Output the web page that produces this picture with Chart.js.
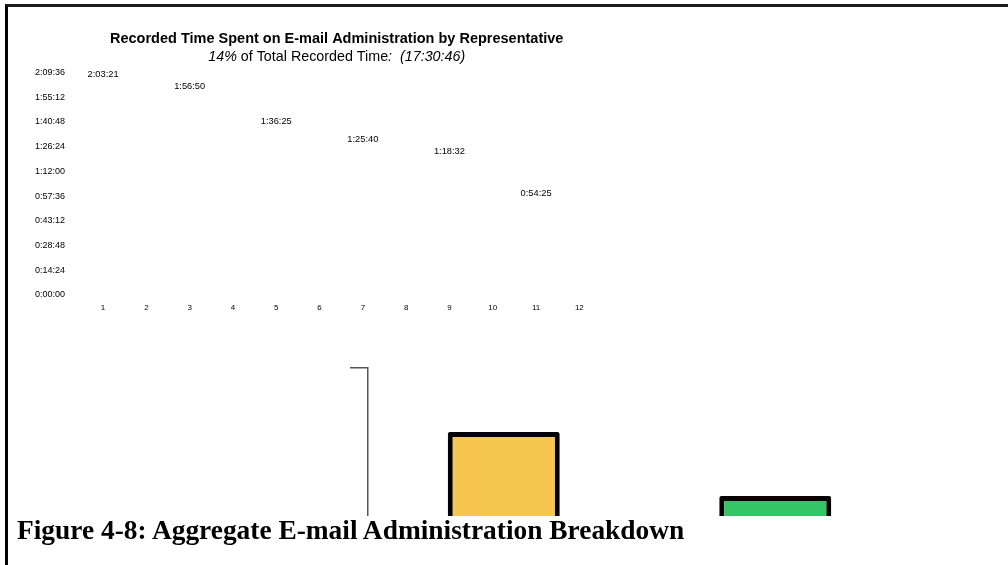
<!DOCTYPE html>
<html>
<head>
<meta charset="utf-8">
<script src="https://cdn.jsdelivr.net/npm/chart.js@4.4.0/dist/chart.umd.min.js"></script>
<style>
  html, body { margin: 0; padding: 0; background: #fff; width: 1008px; height: 565px; overflow: hidden; position: relative; }
  #topWrap { position: absolute; left: 0; top: 0; width: 1008px; height: 330px; }
  #botWrap { position: absolute; left: 0; top: 340px; width: 1008px; height: 400px; }
  #caption { position: absolute; left: 8px; top: 516px; width: 1000px; height: 49px; background: #fff;
    font: bold 27.4px "Liberation Serif", "Times New Roman", serif; line-height: 27px; color: #000; }
  #caption span { position: absolute; left: 9px; top: 1px; white-space: nowrap; }
  #frame { position: absolute; left: 5px; top: 4px; right: 0; bottom: 0; border-top: 3px solid #1c1c1c; border-left: 3px solid #000; pointer-events: none; }
</style>
</head>
<body>
<div id="topWrap"><canvas id="repChart"></canvas></div>
<div id="botWrap"><canvas id="breakdownChart"></canvas></div>
<div id="caption"><span>Figure 4-8: Aggregate E-mail Administration Breakdown</span></div>
<div id="frame"></div>
<script>
// data
const reps = ["1", "2", "3", "4", "5", "6", "7", "8", "9", "10", "11", "12"];
// seconds spent, only odd reps have a value
const repSeconds = [7401, null, 7010, null, 5785, null, 5140, null, 4712, null, 3265, null];
const yMax = 7776;   // 2:09:36
const yStep = 864;   // 0:14:24

const breakdownCats = ["Group 1", "Group 2"];
const breakdownValues = [82.8, 65.6];
const breakdownColors = ["#f5c54d", "#33c566"];

const TITLE = "Recorded Time Spent on E-mail Administration by Representative";
const SUBTITLE = "14% of Total Recorded Time:  (17:30:46)";
const subParts = [["14%", "italic"], [" of Total Recorded Time", "normal"], [":  (17:30:46)", "italic"]];

const FONT = 'Arial, "Liberation Sans", sans-serif';
Chart.defaults.font.family = FONT;
Chart.defaults.color = "#000";

function fmt(sec) {
  const h = Math.floor(sec / 3600);
  const m = Math.floor((sec % 3600) / 60);
  const s = Math.round(sec % 60);
  return h + ":" + String(m).padStart(2, "0") + ":" + String(s).padStart(2, "0");
}

// value labels above the (invisible) bars
const valueLabels = {
  id: "valueLabels",
  afterDatasetsDraw(chart) {
    const ctx = chart.ctx;
    const meta = chart.getDatasetMeta(0);
    ctx.save();
    ctx.font = "9.3px " + FONT;
    ctx.fillStyle = "#000";
    ctx.textAlign = "center";
    ctx.textBaseline = "middle";
    meta.data.forEach(function (el, i) {
      const v = repSeconds[i];
      if (v == null) return;
      ctx.fillText(fmt(v), el.x, el.y - 8.5);
    });
    ctx.restore();
  }
};

// title + subtitle drawn by hand (boxes only reserve the space)
const headings = {
  id: "headings",
  afterDraw(chart) {
    const ctx = chart.ctx;
    const cx = (chart.chartArea.left + chart.chartArea.right) / 2 - 4.5;
    ctx.save();
    ctx.fillStyle = "#000";
    ctx.textBaseline = "middle";
    ctx.textAlign = "center";
    ctx.font = "bold 14.5px " + FONT;
    ctx.fillText(TITLE, cx, 39);

    const size = 14.3;
    const y = 57;
    ctx.textAlign = "left";
    let total = 0;
    subParts.forEach(function (p) {
      ctx.font = p[1] + " " + size + "px " + FONT;
      total += ctx.measureText(p[0]).width;
    });
    let x = cx - total / 2;
    subParts.forEach(function (p) {
      ctx.font = p[1] + " " + size + "px " + FONT;
      ctx.fillText(p[0], x, y);
      x += ctx.measureText(p[0]).width;
    });
    ctx.restore();
  }
};

const repChart = new Chart(document.getElementById("repChart"), {
  type: "bar",
  data: {
    labels: reps,
    datasets: [{
      data: repSeconds,
      backgroundColor: "rgba(0,0,0,0)",
      borderWidth: 0
    }]
  },
  plugins: [valueLabels, headings],
  options: {
    responsive: true,
    maintainAspectRatio: false,
    animation: false,
    layout: { padding: { left: 35, right: 407, top: 0, bottom: 15 } },
    plugins: {
      legend: { display: false },
      tooltip: { enabled: false },
      title: {
        display: true,
        text: TITLE,
        fullSize: false,
        color: "rgba(0,0,0,0)",
        font: { size: 14.5, weight: "bold" },
        padding: { top: 30, bottom: 1 }
      },
      subtitle: {
        display: true,
        text: SUBTITLE,
        fullSize: false,
        color: "rgba(0,0,0,0)",
        font: { size: 14.3 },
        padding: { top: 2, bottom: 5 }
      }
    },
    scales: {
      x: {
        grid: { display: false, drawTicks: false },
        border: { display: false },
        ticks: { font: { size: 8 }, padding: 8, maxRotation: 0, autoSkip: false },
        afterFit: function (s) { s.height = 20; }
      },
      y: {
        min: 0,
        max: yMax,
        grid: { display: false, drawTicks: false },
        border: { display: false },
        ticks: {
          stepSize: yStep,
          font: { size: 9 },
          crossAlign: "far",
          callback: function (v) { return fmt(v); }
        },
        afterFit: function (s) { s.width = 46.4; }
      }
    }
  }
});

const breakdownChart = new Chart(document.getElementById("breakdownChart"), {
  type: "bar",
  data: {
    labels: breakdownCats,
    datasets: [{
      data: breakdownValues,
      backgroundColor: breakdownColors,
      borderColor: "#000",
      borderWidth: 5,
      borderRadius: 2,
      barPercentage: 0.4125,
      categoryPercentage: 1
    }]
  },
  options: {
    responsive: true,
    maintainAspectRatio: false,
    animation: false,
    layout: { padding: { left: 350, right: 97, top: 28, bottom: 0 } },
    plugins: { legend: { display: false }, tooltip: { enabled: false } },
    scales: {
      x: { display: false },
      y: {
        min: 0,
        max: 100,
        ticks: { display: false, stepSize: 100 },
        grid: {
          drawOnChartArea: false,
          tickLength: 18,
          lineWidth: 1.5,
          color: function (c) { return c.tick && c.tick.value === 100 ? "#555" : "rgba(0,0,0,0)"; }
        },
        border: { display: true, color: "#555", width: 1.5 }
      }
    }
  }
});
</script>
</body>
</html>
